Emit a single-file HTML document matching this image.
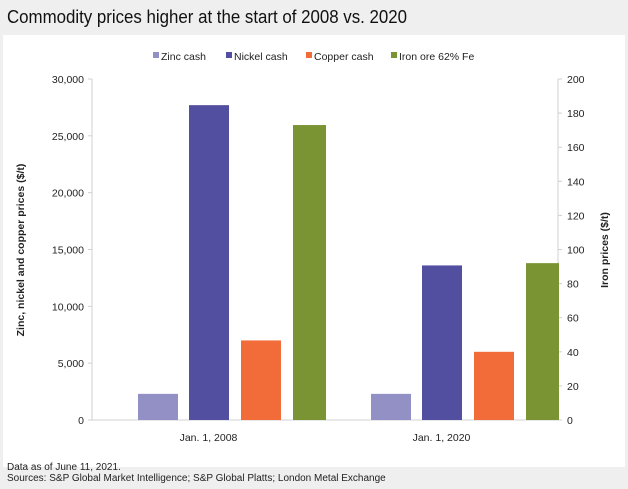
<!DOCTYPE html>
<html><head><meta charset="utf-8"><style>
body{margin:0;width:628px;height:489px;background:#efefef;font-family:"Liberation Sans",sans-serif;overflow:hidden}
svg{display:block}
</style></head><body>
<svg width="628" height="489" xmlns="http://www.w3.org/2000/svg" id="svg">
<text x="7" y="23" font-size="18" fill="#111" textLength="400" lengthAdjust="spacingAndGlyphs">Commodity prices higher at the start of 2008 vs. 2020</text>
<rect x="3" y="35" width="622" height="432" fill="#fff"/>
<g id="legend"></g>
<g id="axes"></g>
<g id="bars"></g>
<text transform="translate(24,250) rotate(-90)" text-anchor="middle" font-size="10.5" font-weight="bold" fill="#222">Zinc, nickel and copper prices ($/t)</text>
<text transform="translate(608,250) rotate(-90)" text-anchor="middle" font-size="10.5" font-weight="bold" fill="#222">Iron prices ($/t)</text>
<text x="7" y="487" font-size="10" fill="#222"><tspan x="7" y="478" dy="-8">Data as of June 11, 2021.</tspan><tspan x="7" y="481">Sources: S&amp;P Global Market Intelligence; S&amp;P Global Platts; London Metal Exchange</tspan></text>
</svg>
<script>
const categories=["Jan. 1, 2008","Jan. 1, 2020"];
const seriesNames=["Zinc cash","Nickel cash","Copper cash","Iron ore 62% Fe"];
const zinc=[2300,2300];
const nickel=[27700,13600];
const copper=[7000,6000];
const iron=[173,92];
const leftTicks=[0,5000,10000,15000,20000,25000,30000];
const rightTicks=[0,20,40,60,80,100,120,140,160,180,200];
const colors=["#9390c6","#534fa0","#f26c3a","#7a9433"];
const NS="http://www.w3.org/2000/svg";
const X0=92,X1=558,Y0=420,Y1=79;
const yL=v=>Y0-(v/30000)*(Y0-Y1);
const yR=v=>Y0-(v/200)*(Y0-Y1);
const band=(X1-X0)/categories.length;
const offs=[46,97,149,201],wids=[40,40,40,33];
function mk(t,a,p){const e=document.createElementNS(NS,t);for(const k in a)e.setAttribute(k,a[k]);p.appendChild(e);return e;}
const axes=document.getElementById('axes'),bars=document.getElementById('bars'),leg=document.getElementById('legend');
let base=mk('line',{x1:X0,x2:X1,y1:Y0,y2:Y0,stroke:'#d0d0d0'},axes);


leftTicks.forEach(v=>{
 const t=mk('text',{x:X0-8,y:yL(v)+4,'text-anchor':'end','font-size':'10.5',fill:'#222'},axes);t.textContent=v.toLocaleString('en-US');
 
 
 mk('line',{x1:X0-4,x2:X0,y1:yL(v),y2:yL(v),stroke:'#d0d0d0'},axes);
});
mk('line',{x1:X0,x2:X0,y1:Y1,y2:Y0,stroke:'#d0d0d0'},axes);
mk('line',{x1:X1,x2:X1,y1:Y1,y2:Y0,stroke:'#d0d0d0'},axes);
rightTicks.forEach(v=>{
 const t=mk('text',{x:X1+9,y:yR(v)+4,'font-size':'10.5',fill:'#222'},axes);t.textContent=v;
 
 
 mk('line',{x1:X1,x2:X1+4,y1:yR(v),y2:yR(v),stroke:'#d0d0d0'},axes);
});
categories.forEach((c,i)=>{
 const bx=X0+i*band;
 const t=mk('text',{x:bx+band/2,y:441,'text-anchor':'middle','font-size':'10.5',fill:'#222'},axes);t.textContent=c;
 
 
 [zinc,nickel,copper].forEach((s,j)=>{
  const y=yL(s[i]);
  const r=mk('rect',{x:bx+offs[j],y:y,width:wids[j],height:Y0-y,fill:colors[j]},bars);
  
  
 });
 const y=yR(iron[i]);
 const r=mk('rect',{x:bx+offs[3],y:y,width:wids[3],height:Y0-y,fill:colors[3]},bars);
 
 
});
const lx=[153,226,306,391];
seriesNames.forEach((n,i)=>{
 const g=mk('g',{},leg);
 
 
 mk('rect',{x:lx[i],y:52,width:6,height:6,fill:colors[i]},g);
 const t=mk('text',{x:lx[i]+8,y:60,'font-size':'10.5',fill:'#222'},g);t.textContent=n;
});
</script>
</body></html>
